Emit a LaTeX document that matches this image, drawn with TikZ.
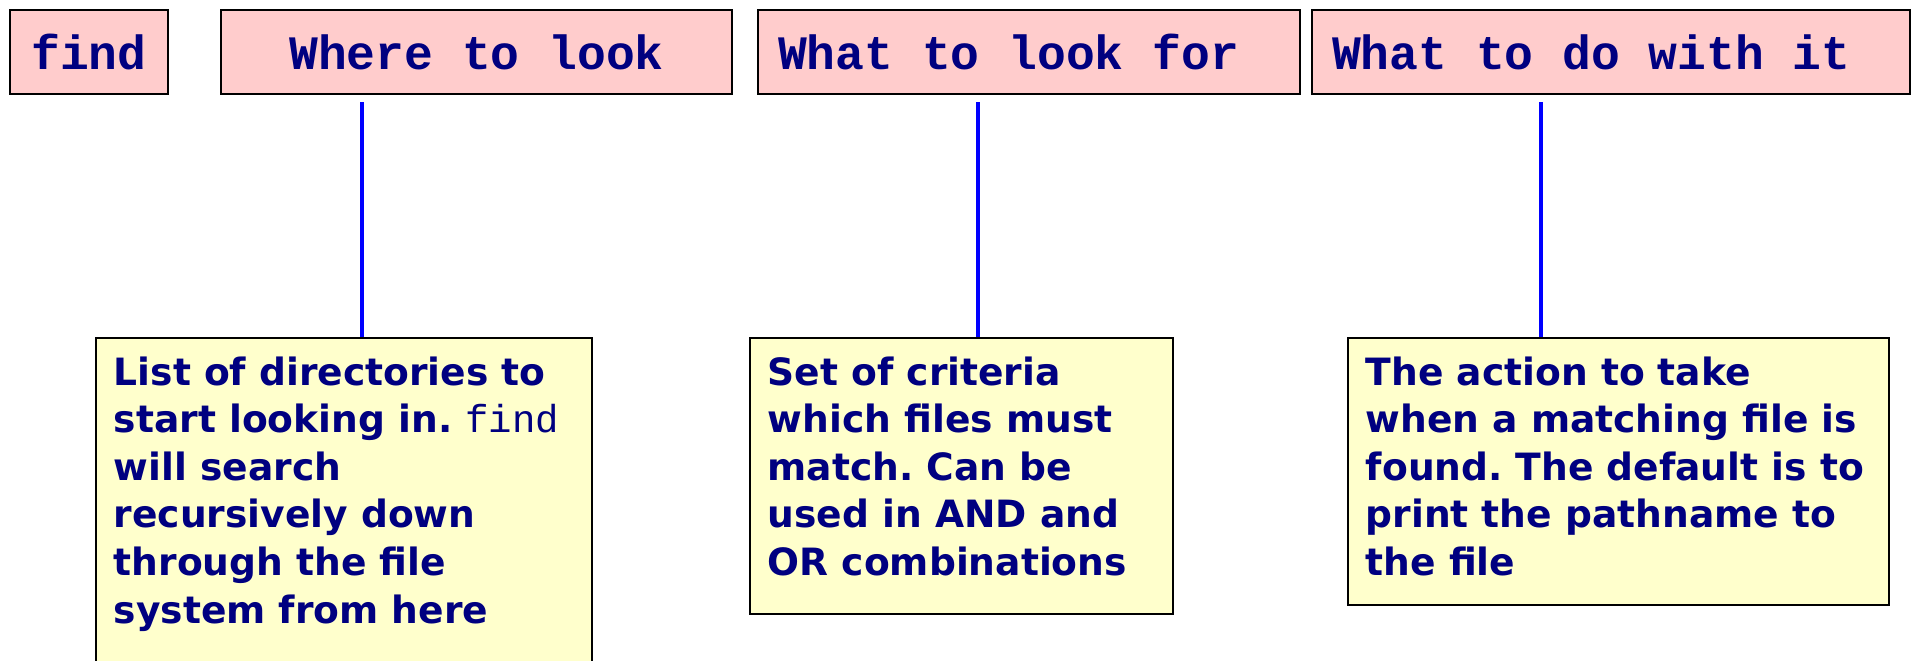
\documentclass[tikz,border=0pt]{standalone}
\usepackage{fontspec}
\setmainfont{DejaVu Sans}
\setmonofont{Liberation Mono}
\usepackage{xcolor}
\usepackage{tikz}
\usetikzlibrary{positioning}
\frenchspacing
\definecolor{headpink}{RGB}{255,204,204}
\definecolor{noteyellow}{RGB}{255,255,204}
\definecolor{textnavy}{RGB}{0,0,128}
\tikzstyle{HEAD}  = [draw=black,        % color for LINES
                     line width=1pt,    % control line width.
                     fill=headpink,     % Fill-in the box.
                     rectangle,         % Box shape
                     align=flush left,
                     minimum height=42pt,
                     inner xsep=10pt,
                     text=textnavy,
                     font=\fontsize{24}{28}\selectfont\ttfamily\bfseries]
\tikzstyle{NOTE}  = [draw=black,        % color for LINES
                     line width=0.8pt,  % control line width.
                     fill=noteyellow,   % Fill-in the box.
                     rectangle,         % Box shape
                     anchor=north west,
                     inner xsep=9pt,
                     inner ysep=7pt,
                     text=textnavy,
                     font=\fontsize{18.8}{23.8}\selectfont\bfseries]
\tikzstyle{LINK}  = [draw=blue, line width=2pt, shorten >=3.5pt]

\begin{document}
\begin{tikzpicture}[node distance=2cm]

		\useasboundingbox (0,0) rectangle (956pt,-330pt);
		\clip (0,0) rectangle (956pt,-330pt);

		% Parts of the command
		\node(find)[HEAD, minimum width = 79pt] at (44.5pt,-26pt) {find};
		\node(where)[HEAD, right of = find, node distance = 193.75pt, minimum width = 255.5pt] {Where to look};
		\node(what)[HEAD, right of = where, node distance = 276.25pt, text width = 251pt] {What to look for};
		\node(action)[HEAD, right of = what, node distance = 291pt, text width = 279pt] {What to do with it};



		% Explanations
		\node(dirs)[NOTE] at (47.5pt,-168.5pt)
		{%
			\parbox[t][167.5pt][t]{230pt}{\strut List of directories to\\
			start looking in. {\mdseries\ttfamily\fontsize{19.5}{23.8}\selectfont find}\\
			will search\\
			recursively down\\
			through the file\\
			system from here}%
		};
		\node(crit)[NOTE] at (374.5pt,-168.5pt)
		{%
			\parbox[t][124pt][t]{193.5pt}{\strut Set of criteria\\
			which files must\\
			match. Can be\\
			used in AND and\\
			OR combinations}%
		};
		\node(todo)[NOTE] at (673.5pt,-168.5pt)
		{%
			\parbox[t][119.5pt][t]{252.5pt}{\strut The action to take\\
			when a matching file is\\
			found. The default is to\\
			print the pathname to\\
			the file}%
		};



		% Lines from explanations up to the parts
		\coordinate (dirsin) at ([xshift=133.5pt]dirs.north west);
		\coordinate (critin) at ([xshift=114.5pt]crit.north west);
		\coordinate (todoin) at ([xshift=97pt]todo.north west);
		\draw[LINK] (dirsin) -- (dirsin |- where.south);
		\draw[LINK] (critin) -- (critin |- what.south);
		\draw[LINK] (todoin) -- (todoin |- action.south);

\end{tikzpicture}
\end{document}
